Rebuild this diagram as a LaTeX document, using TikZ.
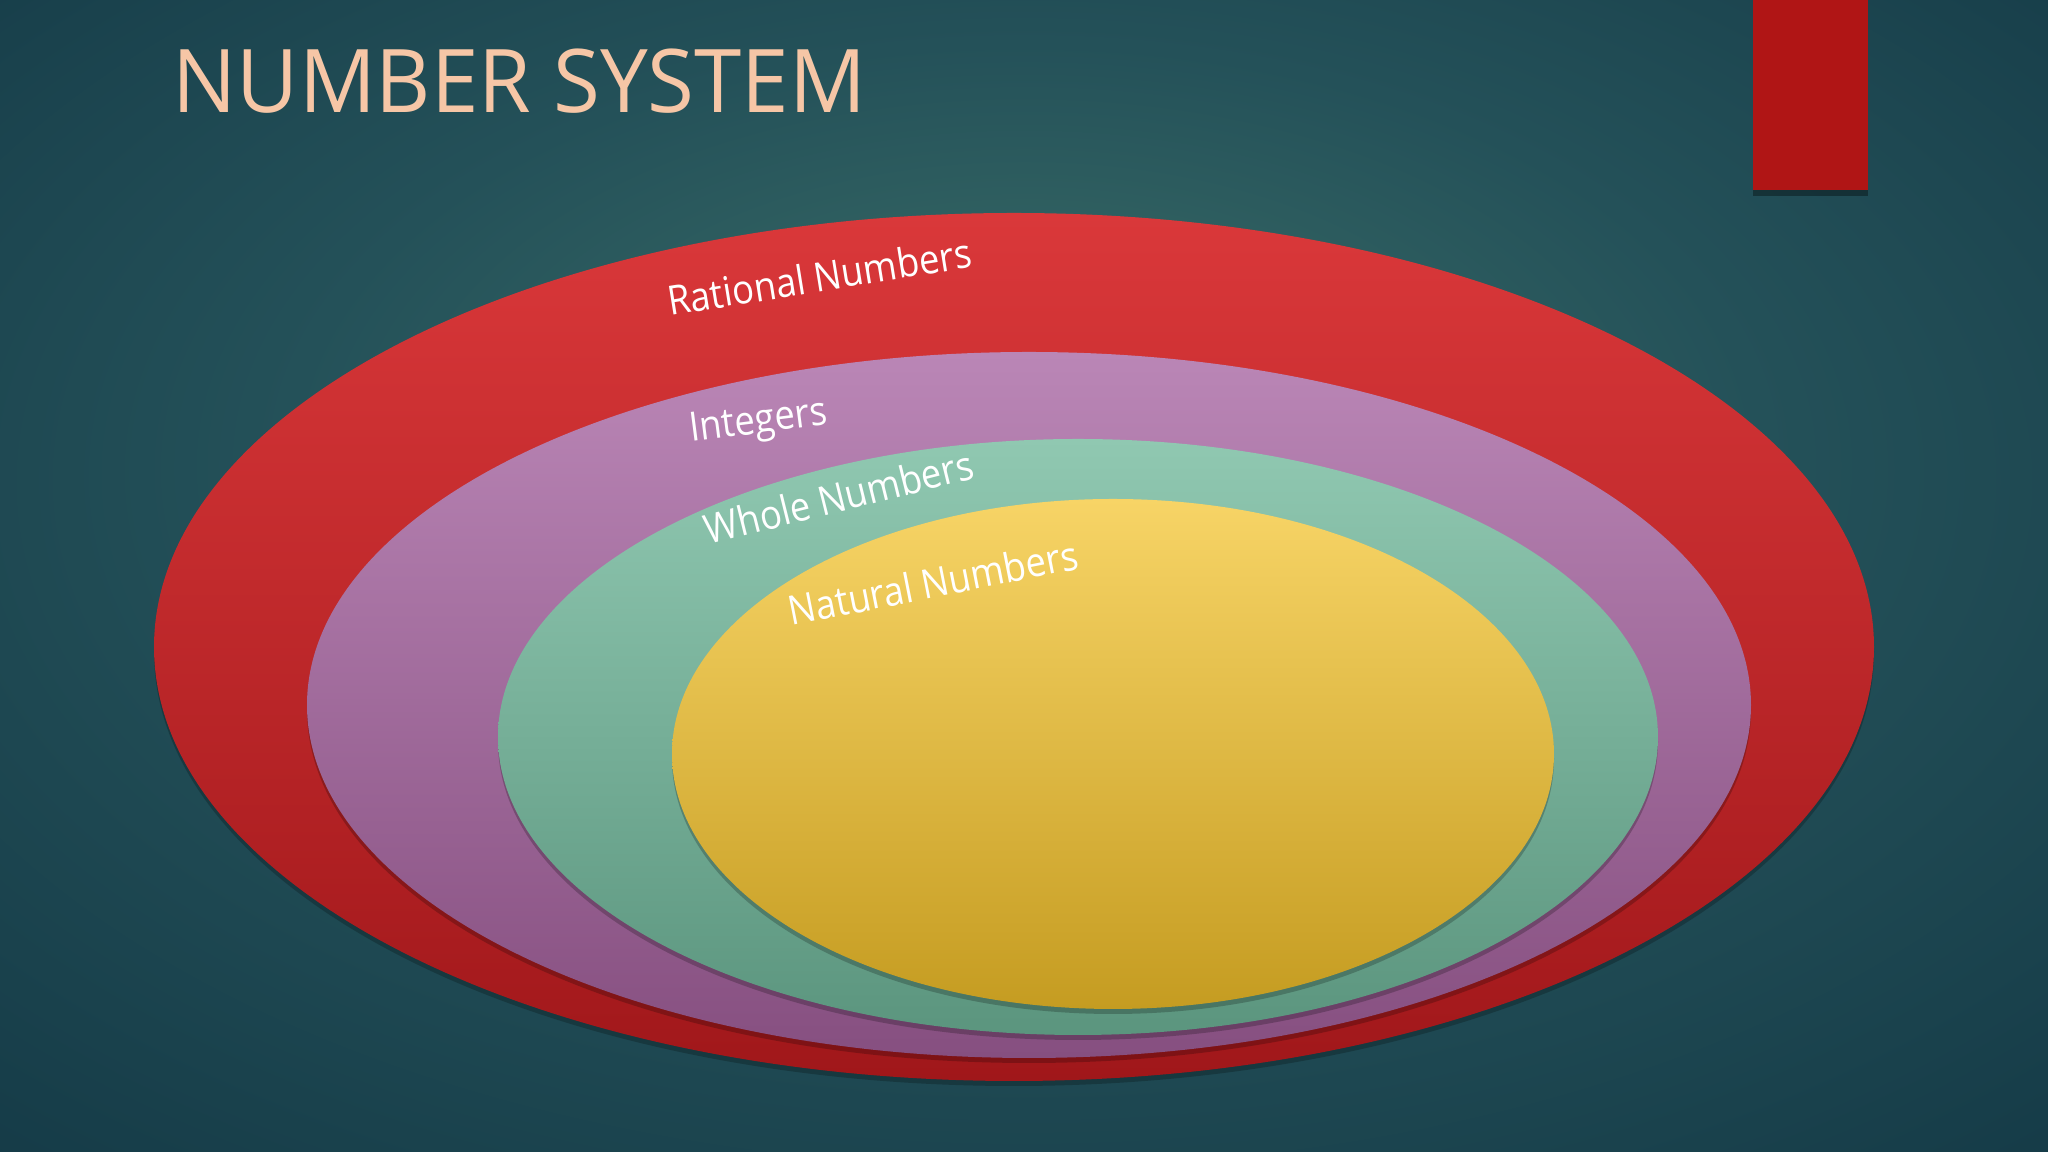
\documentclass[tikz,border=0pt]{standalone}
\usepackage{fontspec}
\setmainfont{Open Sans}
\newfontfamily\labelfont{Open Sans}[FakeStretch=0.9]
\newfontfamily\titlefont{Open Sans}[FakeStretch=0.97]
\definecolor{bgInner}{HTML}{3A6D67}
\definecolor{bgMid}{HTML}{245159}
\definecolor{bgOuter}{HTML}{133845}
\definecolor{titleText}{HTML}{F6C6A6}
\definecolor{barRed}{HTML}{B01515}
\definecolor{ratTop}{HTML}{DA383A}
\definecolor{ratBot}{HTML}{A0171A}
\definecolor{intTop}{HTML}{BA86B6}
\definecolor{intBot}{HTML}{864F80}
\definecolor{wholeTop}{HTML}{90C8B1}
\definecolor{wholeBot}{HTML}{5B957E}
\definecolor{natTop}{HTML}{F7D466}
\definecolor{natBot}{HTML}{C59C21}
\pgfdeclareradialshading{bgglow}{\pgfpoint{0bp}{8bp}}{color(0bp)=(bgInner); color(18bp)=(bgMid); color(40bp)=(bgOuter); color(50bp)=(bgOuter)}

\begin{document}
\begin{tikzpicture}[
	setlabel/.style={anchor=base west, text=white, font=\labelfont\fontsize{11.5}{14}\selectfont, inner sep=0pt},
	setshadow/.style={fill=black, opacity=0.22}
]
	\useasboundingbox (0, 0) rectangle (20.48, 11.52);
	\shade[shading=bgglow] (0, 0) rectangle (20.48, 11.52);

	% title and bar
	\node[anchor=base west, inner sep=0pt, text=titleText, font=\titlefont\fontsize{25}{30}\selectfont] (title) at (1.72, 10.39) {NUMBER SYSTEM};
	\fill[black, opacity=0.35] (17.53, 9.56) rectangle (18.68, 9.66);
	\fill[barRed] (17.53, 9.62) rectangle (18.68, 11.52);

	% nested sets
	\fill[setshadow] (10.14, 5.00) ellipse [x radius=8.60cm, y radius=4.34cm];
	\shade[top color=ratTop, bottom color=ratBot] (10.14, 5.05) ellipse [x radius=8.60cm, y radius=4.34cm];
	\fill[setshadow] (10.29, 4.42) ellipse [x radius=7.22cm, y radius=3.53cm];
	\shade[top color=intTop, bottom color=intBot] (10.29, 4.47) ellipse [x radius=7.22cm, y radius=3.53cm];
	\fill[setshadow] (10.78, 4.10) ellipse [x radius=5.80cm, y radius=2.98cm];
	\shade[top color=wholeTop, bottom color=wholeBot] (10.78, 4.15) ellipse [x radius=5.80cm, y radius=2.98cm];
	\fill[setshadow] (11.13, 3.93) ellipse [x radius=4.41cm, y radius=2.55cm];
	\shade[top color=natTop, bottom color=natBot] (11.13, 3.98) ellipse [x radius=4.41cm, y radius=2.55cm];

	% labels
	\node[setlabel, rotate=9.2] (rational) at (6.70, 8.36) {Rational Numbers};
	\node[setlabel, rotate=7.4] (integers) at (6.91, 7.10) {Integers};
	\node[setlabel, rotate=14] (whole) at (7.08, 6.07) {Whole Numbers};
	\node[setlabel, rotate=11.2] (natural) at (7.91, 5.26) {Natural Numbers};
\end{tikzpicture}
\end{document}
